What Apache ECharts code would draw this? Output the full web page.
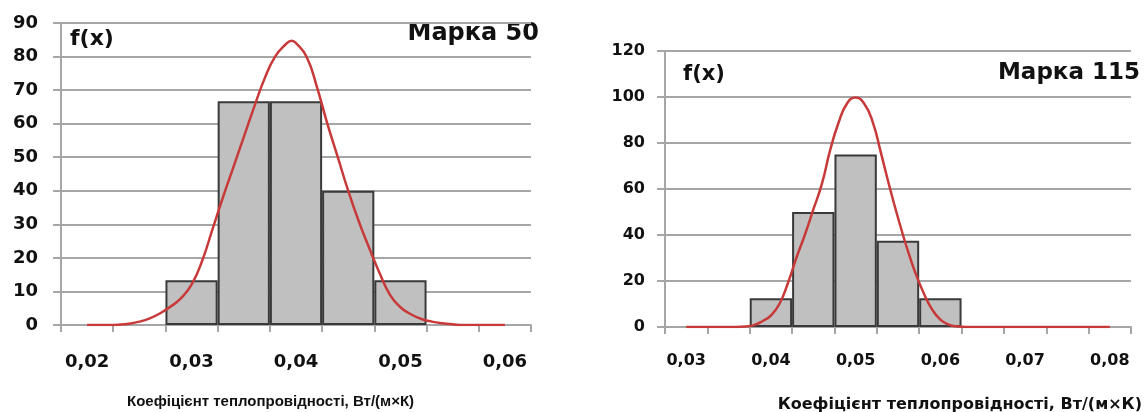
<!DOCTYPE html>
<html lang="uk">
<head>
    <meta charset="UTF-8">
    <title>f(x)</title>
    <script src="https://cdn.jsdelivr.net/npm/echarts@6/dist/echarts.min.js"></script>
    <style>
        body { margin: 0; background: #fff; }
        #box { width: 1146px; height: 412px; }
    </style>
</head>
<body>
    <div id="box"></div>
    <script>
        // Марка 50
        var cats50 = ['0,02', '0,025', '0,03', '0,035', '0,04', '0,045', '0,05', '0,055', '0,06'];
        var bars50 = [null, null, 13.3, 66.7, 66.7, 40, 13.3, null, null];
        var curve50 = [
            [0.020, 0], [0.022, 0], [0.023, 0.1], [0.024, 0.4], [0.025, 1], [0.026, 2],
            [0.027, 3.5], [0.028, 5.5], [0.029, 8], [0.030, 12], [0.031, 19],
            [0.032, 28.5], [0.033, 38], [0.034, 47], [0.035, 56], [0.036, 65],
            [0.037, 73.5], [0.038, 80], [0.039, 83.6], [0.0396, 84.7], [0.040, 84], [0.041, 80],
            [0.042, 71], [0.043, 60], [0.044, 50], [0.045, 40], [0.046, 31],
            [0.047, 23], [0.048, 15.5], [0.049, 9], [0.050, 5.3], [0.051, 3.2],
            [0.052, 1.8], [0.053, 1], [0.054, 0.5], [0.055, 0.2], [0.056, 0], [0.060, 0]
        ];

        // Марка 115
        var cats115 = ['0,03', '0,035', '0,04', '0,045', '0,05', '0,055', '0,06', '0,065', '0,07', '0,075', '0,08'];
        var bars115 = [null, null, 12.5, 50, 75, 37.5, 12.5, null, null, null, null];
        var curve115 = [
            [0.030, 0], [0.036, 0], [0.037, 0.2], [0.038, 0.8], [0.039, 2.5], [0.040, 5],
            [0.041, 10], [0.042, 19], [0.043, 30], [0.044, 40], [0.045, 51],
            [0.046, 62], [0.047, 77], [0.048, 89], [0.049, 97.3], [0.050, 99.8],
            [0.051, 97.2], [0.052, 89.3], [0.053, 75.5], [0.054, 61], [0.055, 47.5],
            [0.056, 35], [0.057, 24], [0.058, 15], [0.059, 7.8], [0.060, 3.2],
            [0.061, 1], [0.062, 0.2], [0.063, 0], [0.080, 0]
        ];

        var gridColor = '#a6a6a6';
        var labelFont = 'DejaVu Sans';

        function yAxis(gridIndex, max, step, size, margin) {
            return {
                type: 'value', gridIndex: gridIndex, min: 0, max: max, interval: step,
                axisLine: { show: true, lineStyle: { color: gridColor, width: 2 } },
                axisTick: { show: true, length: 8, lineStyle: { color: gridColor, width: 2 } },
                splitLine: { lineStyle: { color: gridColor, width: 2 } },
                axisLabel: { color: '#111', fontFamily: labelFont, fontWeight: 'bold', fontSize: size, margin: margin }
            };
        }

        function catAxis(gridIndex, data, size, margin) {
            return {
                type: 'category', gridIndex: gridIndex, data: data, boundaryGap: true,
                axisLine: { lineStyle: { color: gridColor, width: 2 } },
                axisTick: { show: true, interval: 0, length: 7, lineStyle: { color: gridColor, width: 2 } },
                axisLabel: { interval: 1, color: '#111', fontFamily: labelFont, fontWeight: 'bold', fontSize: size, margin: margin }
            };
        }

        function valAxis(gridIndex, min, max) {
            return { type: 'value', gridIndex: gridIndex, min: min, max: max, show: false, splitLine: { show: false } };
        }

        function txt(x, y, text, size, align, family) {
            return {
                type: 'text', x: x, y: y,
                style: {
                    text: text, fill: '#111', font: 'bold ' + size + 'px "' + (family || 'DejaVu Sans') + '"',
                    textAlign: align, textVerticalAlign: 'middle'
                }
            };
        }

        function curve(axisIndex, yIndex, data) {
            return {
                type: 'line', xAxisIndex: axisIndex, yAxisIndex: yIndex, data: data,
                smooth: true, showSymbol: false, z: 5,
                lineStyle: { color: '#c83a3a', width: 2.5 }
            };
        }

        var myChart = echarts.init(document.getElementById('box'));
        var option = {
            animation: false,
            backgroundColor: '#fff',
            grid: [
                { left: 61, right: 615, top: 23, bottom: 87 },
                { left: 665, right: 15, top: 51, bottom: 85 }
            ],
            xAxis: [
                catAxis(0, cats50, 18, 28),
                valAxis(0, 0.0175, 0.0625),
                catAxis(1, cats115, 16, 26),
                valAxis(1, 0.0275, 0.0825)
            ],
            yAxis: [
                yAxis(0, 90, 10, 18, 23),
                yAxis(1, 120, 20, 16, 20)
            ],
            graphic: [
                txt(70, 39, 'f(x)', 22, 'left'),
                txt(539, 34, 'Марка 50', 24, 'right'),
                txt(683, 75, 'f(x)', 21, 'left'),
                txt(1140, 73, 'Марка 115', 23, 'right'),
                txt(127, 402, 'Коефіцієнт теплопровідності, Вт/(м×К)', 15, 'left', 'Liberation Sans'),
                txt(1142, 405, 'Коефіцієнт теплопровідності, Вт/(м×К)', 16, 'right')
            ],
            series: [
                {
                    type: 'bar', xAxisIndex: 0, yAxisIndex: 0, data: bars50,
                    barCategoryGap: '0%',
                    itemStyle: { color: '#c0c0c0', borderColor: '#3a3a3a', borderWidth: 2 }
                },
                curve(1, 0, curve50),
                {
                    type: 'bar', xAxisIndex: 2, yAxisIndex: 1, data: bars115,
                    barCategoryGap: '0%',
                    itemStyle: { color: '#c0c0c0', borderColor: '#3a3a3a', borderWidth: 2 }
                },
                curve(3, 1, curve115)
            ]
        };

        myChart.setOption(option);
    </script>
</body>
</html>
